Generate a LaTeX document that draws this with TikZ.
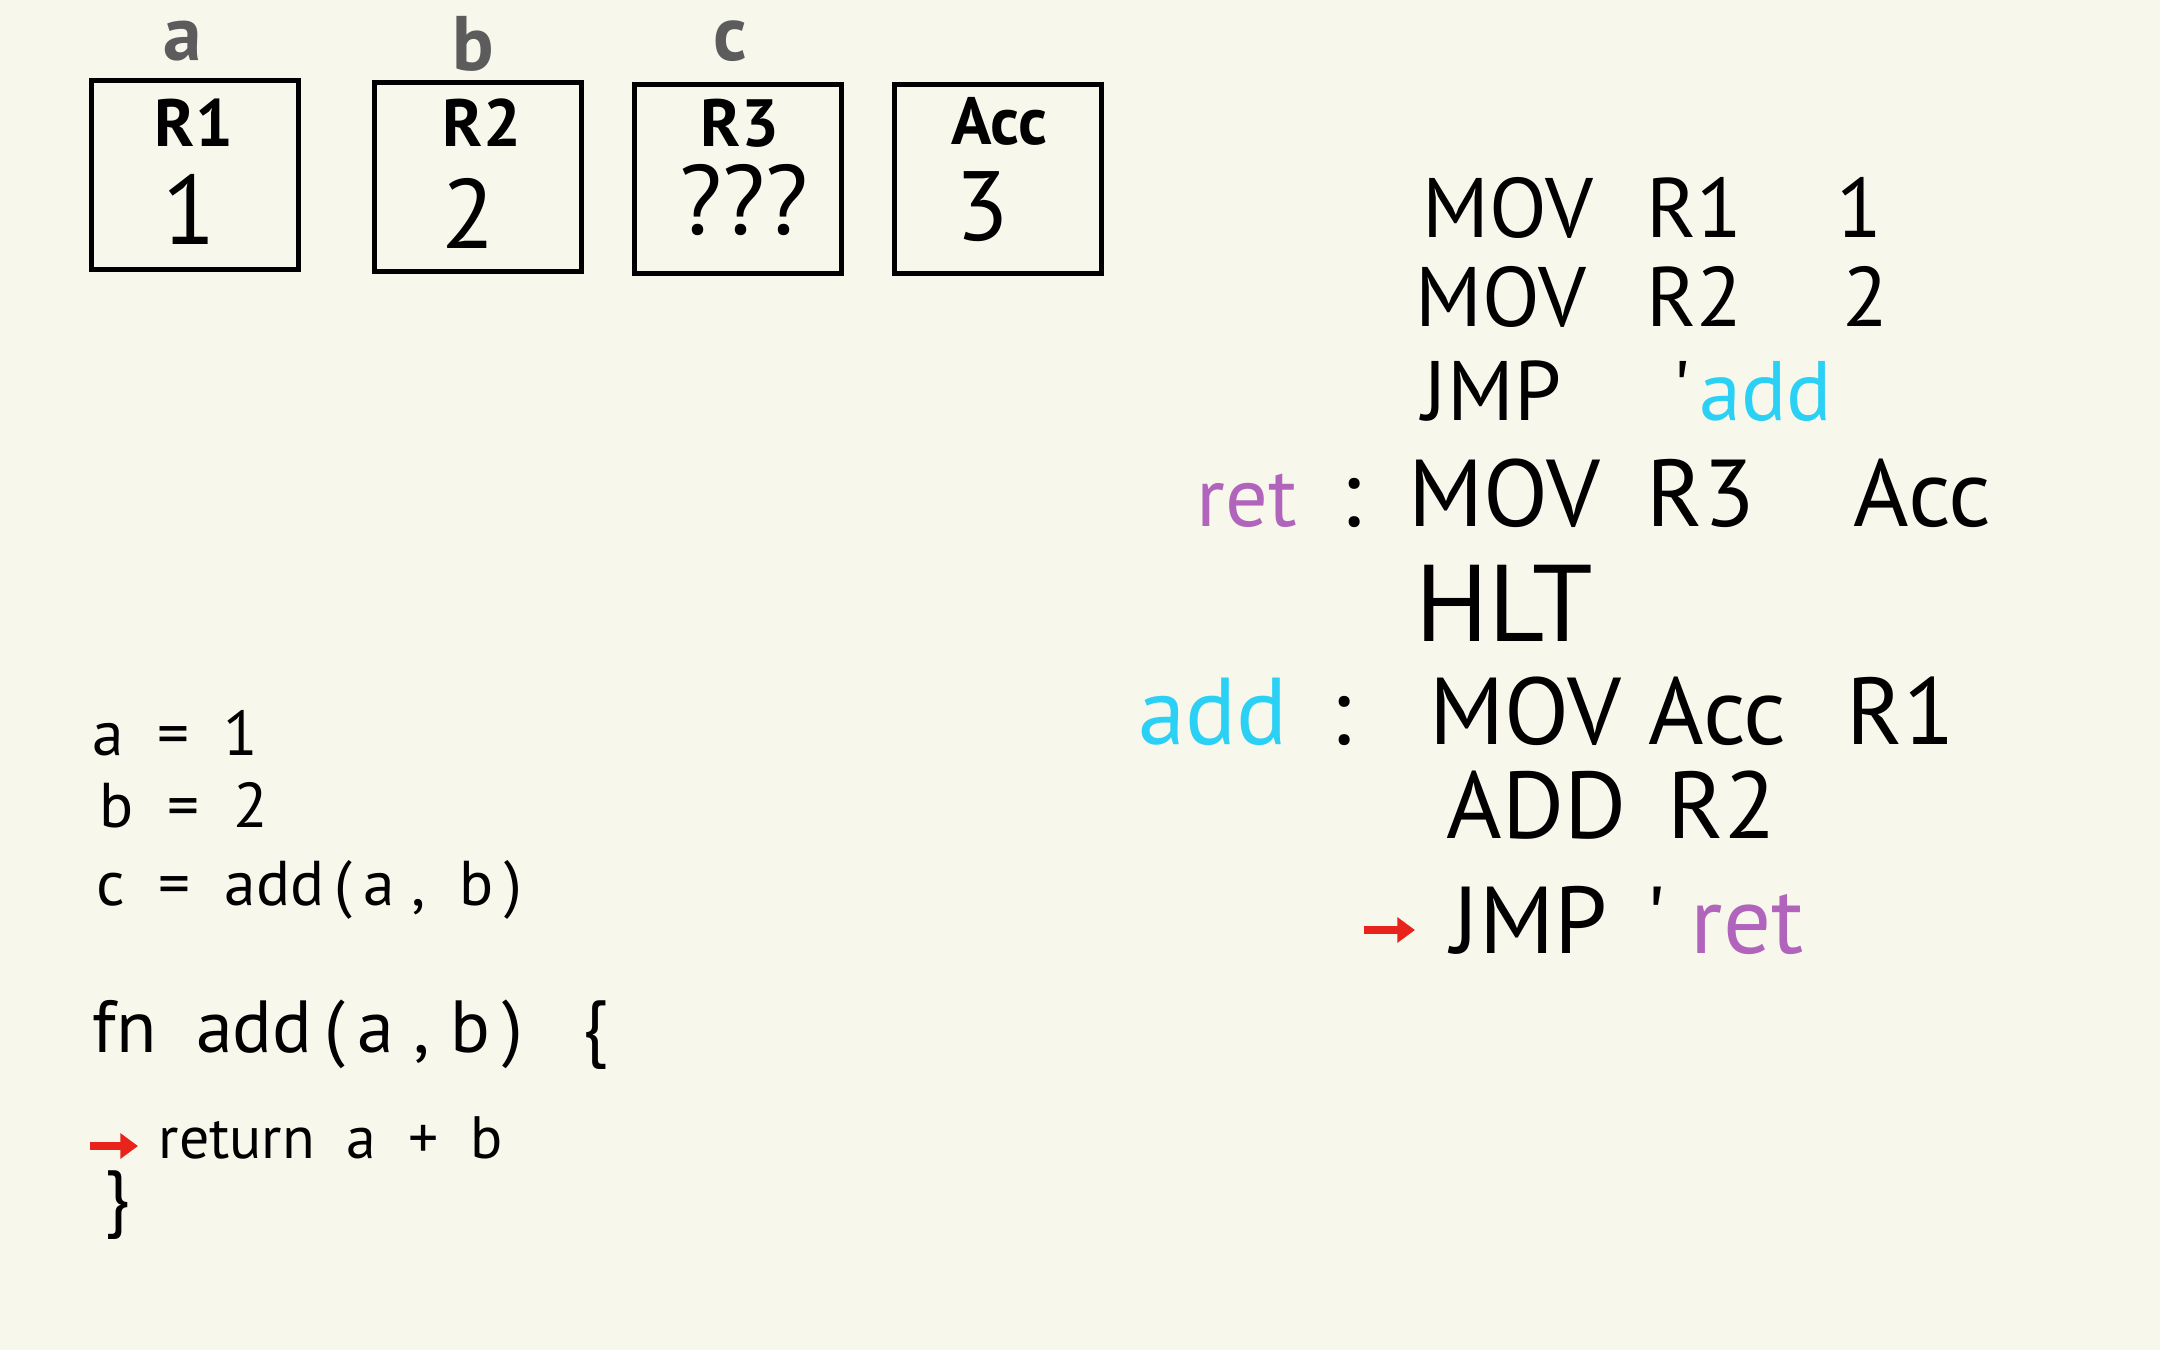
\documentclass[tikz,border=0pt]{standalone}
\usepackage{fontspec}
\setmainfont{PT Sans}
\usetikzlibrary{positioning,arrows.meta}

\definecolor{paper}{HTML}{F8F7EC}
\definecolor{addcol}{HTML}{2BD0F5}
\definecolor{retcol}{HTML}{B064BC}
\definecolor{ptrred}{HTML}{E8231B}
\definecolor{vargrey}{HTML}{5C5C5C}

\begin{document}
\begin{tikzpicture}[x=0.01cm,y=-0.01cm,
    reg/.style={rectangle,draw,line width=1.5pt,minimum width=2.07cm,minimum height=1.89cm,inner sep=0},
    regname/.style={inner sep=0,font=\fontsize{19}{22}\selectfont\bfseries},
    regval/.style={inner sep=0,font=\fontsize{28}{32}\selectfont},
    varlbl/.style={inner sep=0,text=vargrey,font=\fontsize{22}{26}\selectfont\bfseries},
    asm/.style={anchor=base west,inner sep=0,font=\fontsize{24}{28}\selectfont},
    asmbig/.style={asm,font=\fontsize{27}{32}\selectfont},
    code/.style={anchor=base west,inner sep=0,font=\fontsize{18}{22}\selectfont},
    ptr/.style={draw=ptrred,line width=2.2pt,-{Triangle[length=5pt,width=7pt]}}]
    \fill[paper] (0,0) rectangle (2160,1350);

    % registers
    \node[reg] (r1) at (195,175) {};
    \node[reg] (r2) at (478,177) {};
    \node[reg] (r3) at (738,179) {};
    \node[reg] (acc) at (998,179) {};
    \node[regname] (r1name) at (194,123) {R1};
    \node[regname] (r2name) at (482,123) {R2};
    \node[regname] (r3name) at (740,123) {R3};
    \node[regname] (accname) at (999,121) {Acc};
    \node[regval] (r1val) at (189,209) {1};
    \node[regval] (r2val) at (468,213) {2};
    \node[regval] (r3val) at (744,200) {???};
    \node[regval] (accval) at (982,207) {3};
    \node[varlbl] (va) at (183,41) {a};
    \node[varlbl] (vb) at (473,44) {b};
    \node[varlbl] (vc) at (730,41) {c};

    % assembly
    \node[asm] (l1op) at (1422,237) {MOV};
    \node[asm] (l1dst) at (1646,237) {R1};
    \node[asm] (l1src) at (1836,237) {1};
    \node[asm] (l2op) at (1415,326) {MOV};
    \node[asm] (l2dst) at (1646,326) {R2};
    \node[asm] (l2src) at (1842,326) {2};
    \node[asm] (l3op) at (1422,420) {JMP};
    \node[asm] (l3tick) at (1672,420) {\textquotesingle};
    \node[asm,text=addcol] (l3lbl) at (1699,420) {add};
    \node[asm,text=retcol] (retlbl) at (1196,526) {ret};
    \node[asmbig] (retcolon) at (1340,526) {:};
    \node[asmbig] (l4op) at (1408,526) {MOV};
    \node[asmbig] (l4dst) at (1646,526) {R3};
    \node[asmbig] (l4src) at (1853,526) {Acc};
    \node[asmbig,font=\fontsize{31}{36}\selectfont] (l5op) at (1415,641) {HLT};
    \node[asmbig,text=addcol] (addlbl) at (1138,744) {add};
    \node[asmbig] (addcolon) at (1330,744) {:};
    \node[asmbig] (l6op) at (1429,744) {MOV};
    \node[asmbig] (l6dst) at (1648,744) {Acc};
    \node[asmbig] (l6src) at (1846,744) {R1};
    \node[asmbig] (l7op) at (1446,838) {ADD};
    \node[asmbig] (l7src) at (1667,838) {R2};
    \node[asmbig] (l8op) at (1451,953) {JMP};
    \node[asmbig] (l8tick) at (1645,953) {\textquotesingle};
    \node[asmbig,text=retcol] (l8lbl) at (1690,953) {ret};
    \coordinate (asmptr) at (1364,930);
    \draw[ptr,shorten >=0.36cm] (asmptr) -- (l8op.west |- asmptr);

    % source
    \node[code] (seta) at (92,755) {a\ \ =\ \ 1};
    \node[code] (setb) at (99,827) {b\ \ =\ \ 2};
    \node[code] (setc) at (96,905) {c\ \ =\ \ add\,(\,a\ ,\ \ b\,)};
    \node[code,font=\fontsize{21}{25}\selectfont] (fnhead) at (92,1052) {fn\ \ add\,(\,a\ ,\ b\,)\ \ \ \{};
    \node[code,font=\fontsize{17}{21}\selectfont] (fnret) at (158,1158) {return\ \ a\ \ +\ \ b};
    \node[code,font=\fontsize{21}{25}\selectfont] (fnend) at (104,1222) {\}};
    \coordinate (srcptr) at (90,1146);
    \draw[ptr,shorten >=0.2cm] (srcptr) -- (fnret.west |- srcptr);
\end{tikzpicture}
\end{document}
